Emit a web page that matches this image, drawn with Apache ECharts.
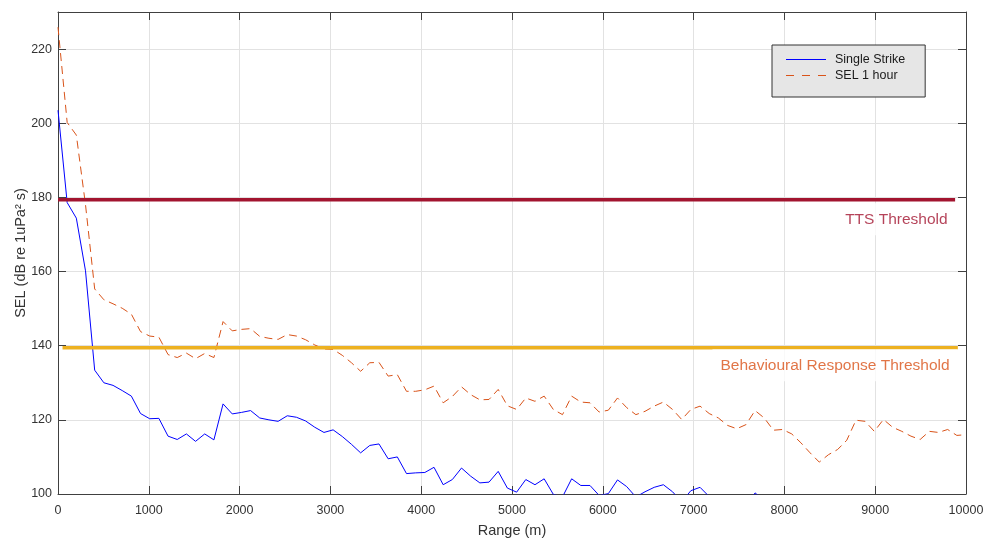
<!DOCTYPE html>
<html>
<head>
<meta charset="utf-8">
<title>SEL vs Range</title>
<script src="https://cdn.jsdelivr.net/npm/echarts@6/dist/echarts.min.js"></script>
<style>
  html, body { margin: 0; padding: 0; background: #fff; }
  #chart { width: 986px; height: 542px; }
</style>
</head>
<body>
<div id="chart"></div>
<script>
// Range samples (m): 100 points from 0 to 10 km
const ranges = [
  0, 101, 202, 303, 404, 505, 606, 707, 808, 909,
  1010, 1111, 1212, 1313, 1414, 1515, 1616, 1717, 1818, 1919,
  2020, 2121, 2222, 2323, 2424, 2525, 2626, 2727, 2828, 2929,
  3030, 3131, 3232, 3333, 3434, 3535, 3636, 3737, 3838, 3939,
  4040, 4141, 4242, 4343, 4444, 4545, 4646, 4747, 4848, 4949,
  5051, 5152, 5253, 5354, 5455, 5556, 5657, 5758, 5859, 5960,
  6061, 6162, 6263, 6364, 6465, 6566, 6667, 6768, 6869, 6970,
  7071, 7172, 7273, 7374, 7475, 7576, 7677, 7778, 7879, 7980,
  8081, 8182, 8283, 8384, 8485, 8586, 8687, 8788, 8889, 8990,
  9091, 9192, 9293, 9394, 9495, 9596, 9697, 9798, 9899, 10000
];

// Single strike SEL (dB re 1uPa^2 s)
const singleStrike = [
  203.5, 178.6, 174.4, 160.2, 133.4, 130.0, 129.3, 127.9, 126.4, 121.7,
  120.3, 120.4, 115.6, 114.7, 116.2, 114.2, 116.2, 114.6, 124.3, 121.6,
  122.0, 122.5, 120.5, 120.0, 119.6, 121.1, 120.7, 119.7, 118.0, 116.6,
  117.3, 115.5, 113.4, 111.1, 113.1, 113.5, 109.5, 110.0, 105.5, 105.7,
  105.8, 107.2, 102.5, 103.9, 107.0, 104.8, 103.0, 103.2, 106.1, 101.6,
  100.5, 103.9, 102.5, 104.1, 99.9, 99.2, 104.1, 102.3, 102.3, 99.6,
  100.1, 103.8, 102.0, 99.2, 100.6, 101.8, 102.5, 100.6, 97.9, 100.9,
  101.8, 99.3, 98.2, 96.2, 95.3, 96.4, 100.3, 98.2, 94.9, 95.1,
  93.9, 91.5, 88.8, 86.3, 88.3, 89.7, 92.2, 97.6, 97.3, 94.6,
  97.8, 95.7, 94.6, 93.3, 92.4, 94.6, 94.3, 95.1, 93.5, 93.7
];

// Cumulative SEL over one hour of piling
const sel1Hour = [
  225.9, 200.2, 196.8, 178.0, 155.3, 152.4, 151.3, 150.1, 148.5, 143.8,
  142.6, 142.3, 137.6, 136.8, 138.0, 136.5, 137.9, 136.8, 146.5, 144.0,
  144.4, 144.6, 142.5, 142.0, 141.7, 143.0, 142.6, 141.6, 140.2, 139.1,
  139.0, 137.4, 135.4, 133.1, 135.4, 135.5, 131.8, 132.2, 127.7, 127.7,
  128.1, 129.1, 124.6, 126.3, 128.9, 126.8, 125.4, 125.5, 128.2, 123.8,
  122.8, 125.9, 125.0, 126.4, 122.8, 121.4, 126.4, 124.8, 124.6, 122.1,
  122.6, 125.9, 123.3, 121.4, 122.3, 123.7, 124.8, 122.8, 120.1, 122.8,
  123.7, 121.7, 120.5, 118.5, 117.6, 118.7, 122.5, 120.5, 117.2, 117.4,
  116.2, 113.8, 111.1, 108.6, 110.6, 112.0, 114.5, 119.9, 119.6, 116.9,
  120.1, 118.0, 116.9, 115.6, 114.7, 116.9, 116.6, 117.4, 115.8, 116.0
];

// Threshold levels and the range span each one is drawn over
const ttsLevel = 179.35;
const ttsSpan = [0, 9880];
const behaviourLevel = 139.45;
const behaviourSpan = [50, 9910];

const seriesNames = ['Single Strike', 'SEL 1 hour'];
const thresholdNames = ['TTS Threshold', 'Behavioural Response Threshold'];

const pairs = (xs, ys) => xs.map((x, i) => [x, ys[i]]);
const flat = (span, level) => span.map(x => [x, level]);

const FONT = '"Liberation Sans", Arial, Helvetica, sans-serif';
const AXIS = '#404040';
const GRID = '#e2e2e2';
const BLUE = '#0000ff';
const ORANGE = '#D95319';
const DASH = [8, 5];

// Legend swatches: a 1px bar (solid or three dashes) inside a 40x13 box.
// The zero-length moves at the corners fix the icon's bounding box.
const SOLID_ICON = 'path://M0,0L0,0M0,6H40V7H0Z M40,13L40,13';
const DASHED_ICON = 'path://M0,0L0,0M0,6H8V7H0Z M16,6H24V7H16Z M32,6H40V7H32Z M40,13L40,13';

const boxAxis = (extra) => Object.assign({
  type: 'value',
  axisLine: { show: true, onZero: false, lineStyle: { color: AXIS, width: 1 } },
  axisTick: { show: true, inside: true, length: 8, lineStyle: { color: AXIS, width: 1 } },
  axisLabel: { show: false },
  splitLine: { show: false }
}, extra);

const chart = echarts.init(document.getElementById('chart'), null, { renderer: 'canvas' });

chart.setOption({
  animation: false,
  backgroundColor: '#ffffff',
  textStyle: { fontFamily: FONT },
  grid: { left: 58, right: 20, top: 12, bottom: 48, containLabel: false, outerBoundsMode: 'none' },
  legend: {
    data: [
      { name: seriesNames[0], icon: SOLID_ICON },
      { name: seriesNames[1], icon: DASHED_ICON }
    ],
    orient: 'vertical',
    left: 772,
    top: 45,
    itemWidth: 40,
    itemHeight: 13,
    itemGap: 3,
    padding: [8, 20, 15, 14],
    backgroundColor: '#e6e6e6',
    borderColor: '#333333',
    borderWidth: 1,
    borderRadius: 0,
    selectedMode: false,
    itemStyle: { borderWidth: 0 },
    textStyle: { fontFamily: FONT, fontSize: 12.5, color: '#1a1a1a', padding: [0, 0, 0, 4] }
  },
  xAxis: [
    boxAxis({
      min: 0, max: 10000, interval: 1000, position: 'bottom',
      name: 'Range (m)', nameLocation: 'middle', nameGap: 29, nameMoveOverlap: false,
      nameTextStyle: { fontFamily: FONT, fontSize: 14.5, color: '#333333' },
      axisLabel: { show: true, color: '#333333', fontFamily: FONT, fontSize: 12.5, margin: 10,
                   formatter: v => String(v) },
      splitLine: { show: true, lineStyle: { color: GRID, width: 1 } }
    }),
    boxAxis({ min: 0, max: 10000, interval: 1000, position: 'top' })
  ],
  yAxis: [
    boxAxis({
      min: 100, max: 230, interval: 20, position: 'left',
      name: 'SEL (dB re 1uPa² s)', nameLocation: 'middle', nameGap: 30, nameMoveOverlap: false,
      nameTextStyle: { fontFamily: FONT, fontSize: 14.5, color: '#333333' },
      axisLabel: { show: true, color: '#333333', fontFamily: FONT, fontSize: 12.5, margin: 6,
                   showMaxLabel: false, formatter: v => String(v) },
      splitLine: { show: true, lineStyle: { color: GRID, width: 1 } }
    }),
    boxAxis({ min: 100, max: 230, interval: 20, position: 'right' })
  ],
  series: [
    {
      name: seriesNames[0],
      type: 'line',
      data: pairs(ranges, singleStrike),
      symbol: 'none',
      clip: true,
      z: 3,
      lineStyle: { color: BLUE, width: 1 },
      itemStyle: { color: BLUE }
    },
    {
      name: seriesNames[1],
      type: 'line',
      data: pairs(ranges, sel1Hour),
      symbol: 'none',
      clip: true,
      z: 3,
      lineStyle: { color: ORANGE, width: 1, type: DASH },
      itemStyle: { color: ORANGE }
    },
    {
      name: thresholdNames[0],
      type: 'line',
      data: flat(ttsSpan, ttsLevel),
      symbol: 'none',
      silent: true,
      z: 4,
      lineStyle: { color: '#A2142F', width: 3.5 }
    },
    {
      name: thresholdNames[1],
      type: 'line',
      data: flat(behaviourSpan, behaviourLevel),
      symbol: 'none',
      silent: true,
      z: 4,
      lineStyle: { color: '#EDB120', width: 3.5 }
    },
    {
      type: 'scatter',
      silent: true,
      z: 5,
      symbolSize: 0,
      data: [
        { value: [9886, 174.1], label: { formatter: thresholdNames[0], color: '#A2142F' } },
        { value: [9908, 134.7], label: { formatter: thresholdNames[1], color: ORANGE } }
      ],
      label: {
        show: true,
        position: 'left',
        distance: 0,
        fontFamily: FONT,
        fontSize: 15.5,
        backgroundColor: '#ffffff',
        padding: [8, 8, 8, 8]
      }
    }
  ]
});
</script>
</body>
</html>
